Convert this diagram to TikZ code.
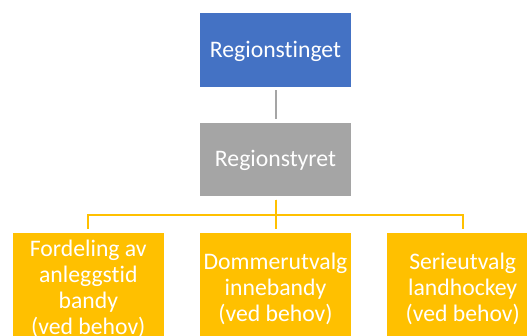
\documentclass[tikz,border=0pt]{standalone}
\usepackage{fontspec}
\setmainfont{Carlito}[Ligatures={NoCommon,NoRare}]
\definecolor{boxblue}{HTML}{4472C4}
\definecolor{boxgray}{HTML}{A5A5A5}
\definecolor{boxyellow}{HTML}{FFC000}
\begin{document}
\begin{tikzpicture}[x=1pt,y=-1pt,
  orgbox/.style={rectangle, draw=white, line width=0.8pt, inner sep=0pt,
    minimum width=152.4pt, text=white, align=center,
    font=\fontsize{23.7}{26}\selectfont},
  topbox/.style={orgbox, fill=boxblue, minimum height=75pt},
  midbox/.style={orgbox, fill=boxgray, minimum height=74.4pt},
  leafbox/.style={orgbox, fill=boxyellow, minimum height=112pt},
  grayline/.style={draw=boxgray, line width=2pt, shorten <=2.6pt, shorten >=2.6pt},
  yellowline/.style={draw=boxyellow, line width=2pt, shorten <=2.6pt, shorten >=2.6pt}]
\useasboundingbox (0,0) rectangle (527,335);
\clip (0,0) rectangle (527,335);
\node[topbox] (ting) at (275.5,49.8) {\rule{0pt}{19pt}Regionstinget};
\node[midbox] (styre) at (275.5,159.5) {\rule{0pt}{19pt}Regionstyret};
\node[leafbox] (c1) at (88.3,288.3) {\rule{0pt}{18pt}Fordeling av\\anleggstid\\bandy\\(ved behov)};
\node[leafbox] (c2) at (275.5,288.3) {\rule{0pt}{18pt}Dommerutvalg\\innebandy\\(ved behov)};
\node[leafbox] (c3) at (462.7,288.3) {\rule{0pt}{18pt}Serieutvalg\\landhockey\\(ved behov)};
\draw[grayline] (ting) -- (styre);
\coordinate (bus) at ([yshift=-17.6pt]styre.south);
\draw[yellowline] (styre.south) -- (c2.north);
\draw[yellowline] (styre.south) -- (bus) -| (c1.north);
\draw[yellowline] (styre.south) -- (bus) -| (c3.north);
\end{tikzpicture}
\end{document}
